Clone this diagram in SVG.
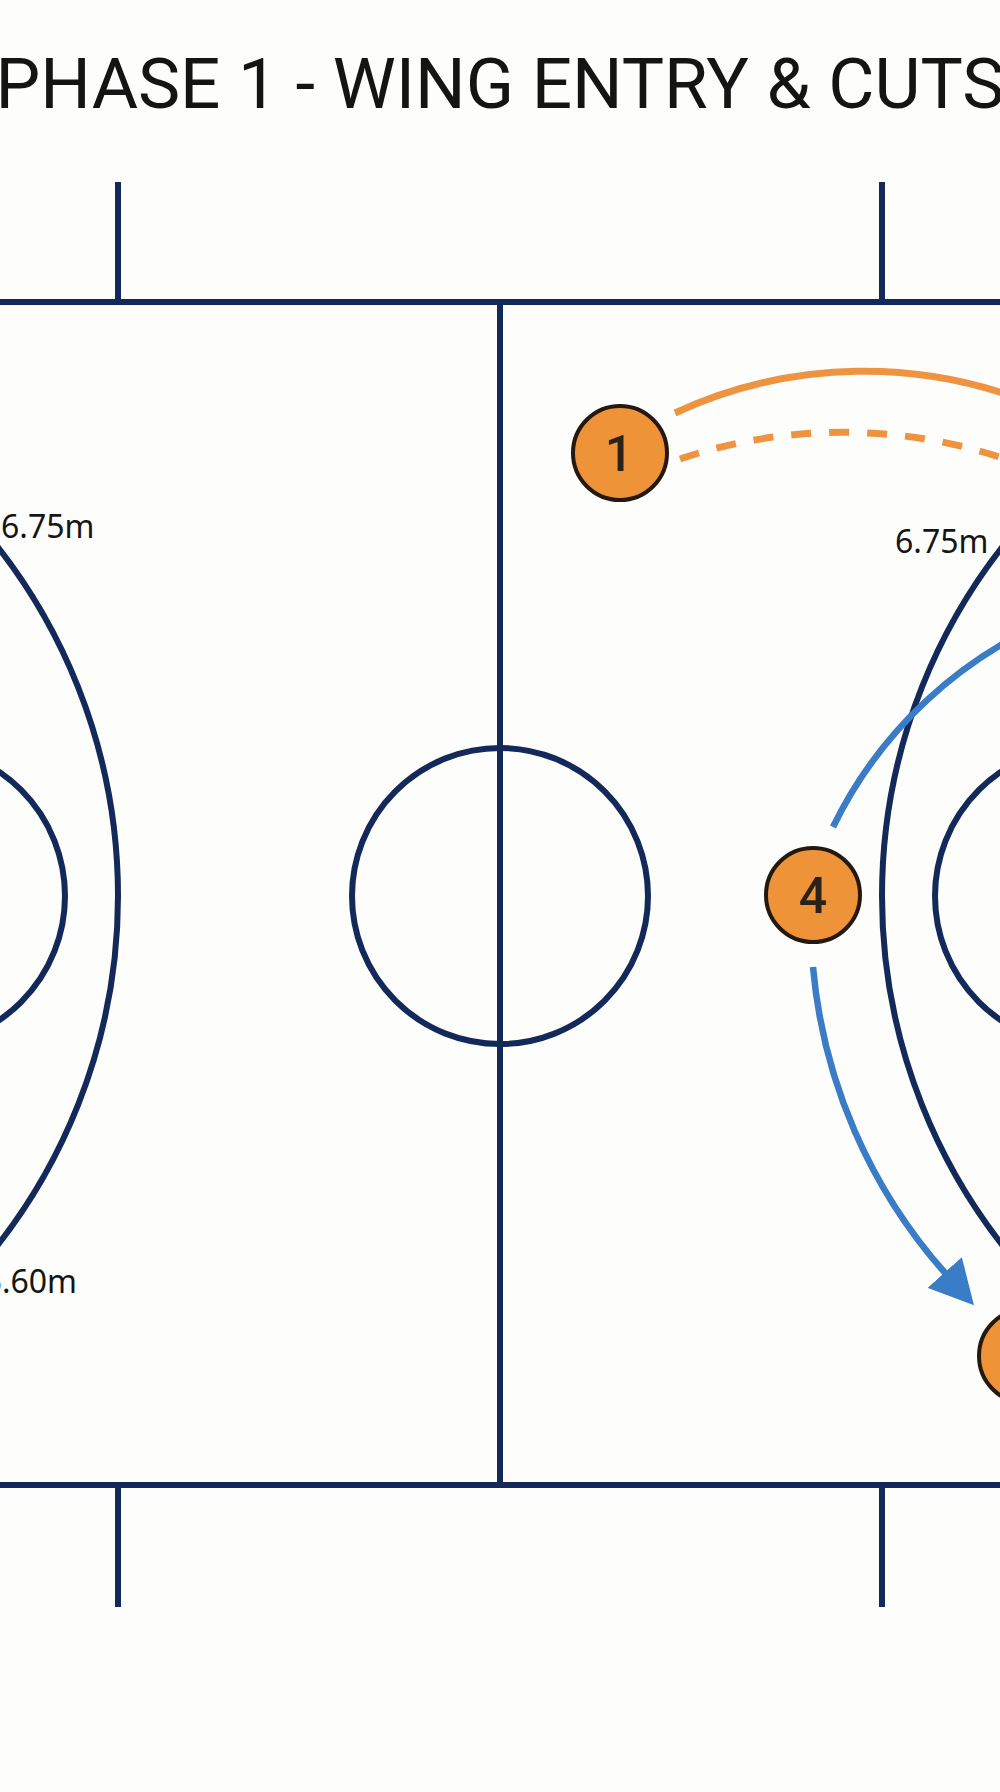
<svg xmlns="http://www.w3.org/2000/svg" width="1000" height="1792" viewBox="0 0 1000 1792">
  <style>
    .court { fill: none; stroke: #13295a; stroke-width: 6; }
    .label { font-family: "Noto Sans", "Open Sans", sans-serif; font-size: 32px; fill: #151515; }
    .title { font-family: Roboto, "Liberation Sans", sans-serif; font-size: 71px; fill: #141414; }
    .player { fill: #ef9338; stroke: #24190f; stroke-width: 4; }
    .num { font-family: Roboto, "Noto Sans", sans-serif; font-size: 50px; font-weight: 500; fill: #2a2118; text-anchor: middle; }
    .pass { fill: none; stroke: #ee9440; stroke-width: 7; }
    .cut { fill: none; stroke: #3b7cc6; stroke-width: 6.5; }
  </style>
  <defs>
    <marker id="arrow-blue" markerUnits="userSpaceOnUse" markerWidth="44" markerHeight="46" viewBox="0 0 44 46" refX="2" refY="23" orient="auto">
      <path d="M0,0 L44,23 L0,46 Z" fill="#3b7cc6"/>
    </marker>
  </defs>
  <rect x="0" y="0" width="1000" height="1792" fill="#fdfdfb"/>

  <text class="title" x="500" y="108" text-anchor="middle">PHASE 1 - WING ENTRY &amp; CUTS</text>

  <g id="court">
    <line class="court" x1="0" y1="302" x2="1000" y2="302"/>
    <line class="court" x1="0" y1="1485" x2="1000" y2="1485"/>
    <line class="court" x1="500" y1="302" x2="500" y2="1485"/>
    <line class="court" x1="118" y1="182" x2="118" y2="302"/>
    <line class="court" x1="882" y1="182" x2="882" y2="302"/>
    <line class="court" x1="118" y1="1485" x2="118" y2="1607"/>
    <line class="court" x1="882" y1="1485" x2="882" y2="1607"/>
    <circle class="court" cx="500" cy="896" r="148"/>
    <circle class="court" cx="-448" cy="896" r="566"/>
    <circle class="court" cx="1448" cy="896" r="566"/>
    <circle class="court" cx="-85" cy="896" r="150"/>
    <circle class="court" cx="1085" cy="896" r="150"/>
    <text class="label" x="1" y="538">6.75m</text>
    <text class="label" x="895" y="553">6.75m</text>
    <text class="label" x="77" y="1293" text-anchor="end">6.60m</text>
  </g>

  <g id="connectors">
    <path class="pass" d="M675,413 A450,450 0 0 1 1040,407"/>
    <path class="pass" d="M680,459 A510,510 0 0 1 1040,472" stroke-dasharray="20 18"/>
    <path class="cut" d="M833,827 A429,429 0 0 1 1060,616"/>
    <path class="cut" d="M813,967 A532,532 0 0 0 946,1274" marker-end="url(#arrow-blue)"/>
  </g>

  <g id="node-1">
    <circle class="player" cx="620" cy="453" r="47"/>
    <text class="num" x="619" y="471">1</text>
  </g>
  <g id="node-4">
    <circle class="player" cx="813" cy="895" r="47"/>
    <text class="num" x="813" y="913">4</text>
  </g>
  <g id="node-offscreen">
    <circle class="player" cx="1026" cy="1356" r="47"/>
  </g>
</svg>
